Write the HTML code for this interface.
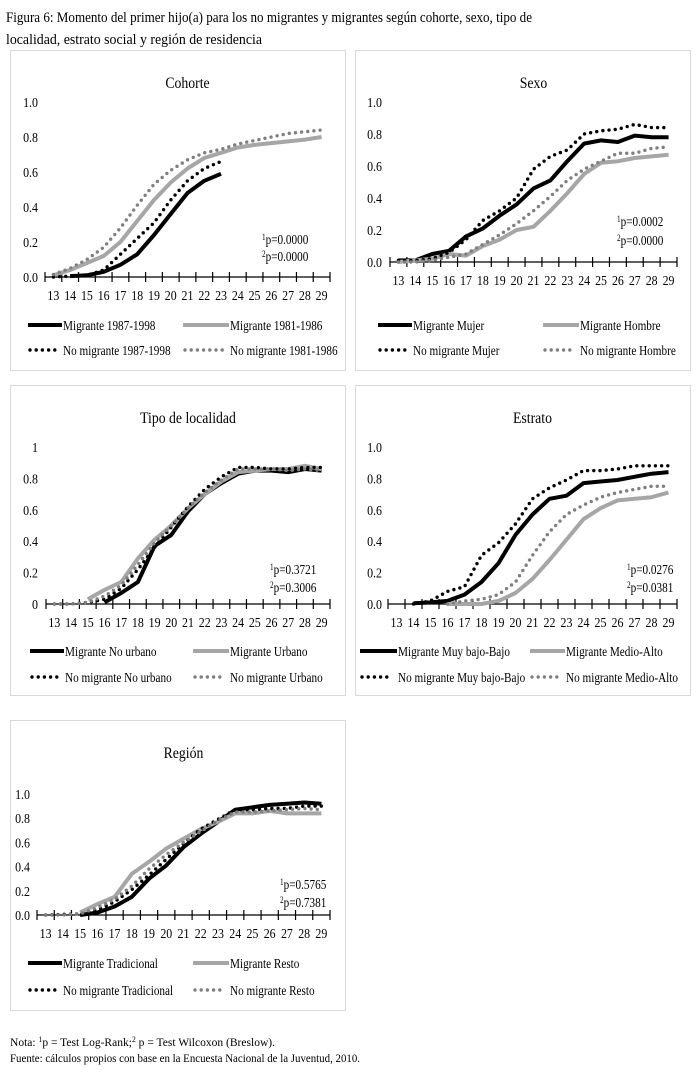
<!DOCTYPE html>
<html><head><meta charset="utf-8"><style>
html,body{margin:0;padding:0;background:#fff;}
svg{display:block;font-family:"Liberation Serif",serif;}
</style></head><body>
<svg id="page" width="699" height="1081" viewBox="0 0 699 1081" xmlns="http://www.w3.org/2000/svg">
<text x="6" y="22" font-size="15" textLength="526" lengthAdjust="spacingAndGlyphs">Figura 6: Momento del primer hijo(a) para los no migrantes y migrantes según cohorte, sexo, tipo de</text>
<text x="6" y="44" font-size="15" textLength="256" lengthAdjust="spacingAndGlyphs">localidad, estrato social y región de residencia</text>
<text x="10" y="1046" font-size="12" textLength="265" lengthAdjust="spacingAndGlyphs">Nota: <tspan font-size="8" dy="-4">1</tspan><tspan dy="4">p = Test Log-Rank;</tspan><tspan font-size="8" dy="-4">2</tspan><tspan dy="4"> p = Test Wilcoxon (Breslow).</tspan></text>
<text x="10" y="1062" font-size="12" textLength="350" lengthAdjust="spacingAndGlyphs">Fuente: cálculos propios con base en la Encuesta Nacional de la Juventud, 2010.</text>
</svg>
<script>
const ages = ["13","14","15","16","17","18","19","20","21","22","23","24","25","26","27","28","29"];
const yTicksA = ["0.0","0.2","0.4","0.6","0.8","1.0"];
const yTicksB = ["0","0.2","0.4","0.6","0.8","1"];
const N = null;
// Cohorte
const cohM87 = [N,.005,.01,.03,.07,.13,.24,.36,.48,.55,.59,N,N,N,N,N,N];
const cohM81 = [.01,.04,.08,.12,.2,.32,.44,.54,.62,.68,.71,.74,.755,.765,.775,.785,.80];
const cohNM87 = [0,.005,.01,.04,.13,.22,.31,.44,.55,.62,.66,N,N,N,N,N,N];
const cohNM81 = [.015,.05,.1,.17,.28,.41,.53,.61,.67,.71,.73,.76,.78,.80,.82,.83,.84];
// Sexo
const sexMM = [.01,.01,.05,.07,.16,.21,.29,.36,.46,.51,.63,.74,.76,.75,.79,.78,.78];
const sexMH = [0,.01,.02,.05,.04,.10,.14,.20,.22,.32,.43,.55,.62,.63,.65,.66,.67];
const sexNM = [.01,.01,.02,.06,.14,.26,.32,.40,.58,.66,.70,.80,.82,.83,.86,.84,.84];
const sexNH = [0,0,.01,.03,.05,.11,.17,.24,.32,.41,.51,.58,.63,.68,.68,.71,.72];
// Tipo de localidad
const locMNU = [N,N,N,.01,.07,.14,.37,.44,.59,.70,.77,.83,.85,.85,.84,.86,.85];
const locMU = [N,N,.03,.09,.14,.29,.41,.50,.61,.70,.78,.84,.85,.86,.86,.88,.86];
const locNNU = [0,0,.01,.03,.10,.22,.36,.49,.62,.73,.81,.87,.87,.86,.86,.87,.87];
const locNU = [0,0,.01,.05,.12,.25,.39,.50,.61,.71,.79,.86,.86,.86,.85,.86,.85];
// Estrato
const estMB = [N,.005,.01,.02,.06,.14,.26,.44,.57,.67,.69,.77,.78,.79,.81,.83,.84];
const estMA = [N,N,N,0,0,0,.02,.07,.16,.28,.41,.54,.61,.66,.67,.68,.71];
const estNB = [N,0,.02,.08,.11,.31,.39,.51,.67,.74,.79,.85,.85,.86,.88,.88,.88];
const estNA = [N,N,N,0,.02,.03,.06,.14,.31,.46,.57,.63,.68,.71,.73,.75,.75];
// Región
const regMT = [N,N,0,.02,.07,.15,.30,.41,.56,.67,.77,.87,.89,.91,.92,.93,.92];
const regMR = [N,N,.02,.09,.15,.34,.44,.55,.63,.71,.77,.84,.84,.86,.84,.84,.84];
const regNT = [0,.005,.01,.04,.11,.21,.33,.46,.59,.71,.79,.87,.87,.88,.88,.90,.90];
const regNR = [0,0,.01,.06,.13,.24,.38,.50,.60,.69,.78,.85,.85,.86,.87,.88,.87];

const svg = document.getElementById('page');
const NS = 'http://www.w3.org/2000/svg';
function mk(tag, attrs, parent){ const e=document.createElementNS(NS,tag); for(const k in attrs) e.setAttribute(k,attrs[k]); (parent||svg).appendChild(e); return e; }
const condensed=[];
function squeeze(el,f){ condensed.push([el,f]); }

const STY = {
  ms:{stroke:'#000',w:4,dash:null},
  gs:{stroke:'#a6a6a6',w:4,dash:null},
  md:{stroke:'#000',w:3.4,dash:'0 6.2'},
  gd:{stroke:'#7f7f7f',w:3.4,dash:'0 6.2'}
};

const panels = [
 {key:'cohorte',title:'Cohorte',box:[10,50,335,320],ax:[45,330,277,102],ylab:yTicksA,ylx:38,tY:88,
  p:[262,244,261],leg:[325,350],lx:[28,63,183,230],
  series:[[cohM87,'ms','Migrante 1987-1998'],[cohM81,'gs','Migrante 1981-1986'],[cohNM87,'md','No migrante 1987-1998'],[cohNM81,'gd','No migrante 1981-1986']],p1:'0.0000',p2:'0.0000'},
 {key:'sexo',title:'Sexo',box:[355,50,335,320],ax:[390,677,262,102],ylab:yTicksA,ylx:382,tY:88,
  p:[617,226,245],leg:[325,350],lx:[378,413,543,580],
  series:[[sexMM,'ms','Migrante Mujer'],[sexMH,'gs','Migrante Hombre'],[sexNM,'md','No migrante Mujer'],[sexNH,'gd','No migrante Hombre']],p1:'0.0002',p2:'0.0000'},
 {key:'localidad',title:'Tipo de localidad',box:[10,385,335,310],ax:[46,330,604,447],ylab:yTicksB,ylx:38,tY:423,
  p:[270,574,592],leg:[651,677],lx:[30,65,193,230],
  series:[[locMNU,'ms','Migrante No urbano'],[locMU,'gs','Migrante Urbano'],[locNNU,'md','No migrante No urbano'],[locNU,'gd','No migrante Urbano']],p1:'0.3721',p2:'0.3006'},
 {key:'estrato',title:'Estrato',box:[355,385,335,310],ax:[388,677,604,447],ylab:yTicksA,ylx:382,tY:423,
  p:[627,574,592],leg:[651,677],lx:[360,398,530,566],
  series:[[estMB,'ms','Migrante Muy bajo-Bajo'],[estMA,'gs','Migrante Medio-Alto'],[estNB,'md','No migrante Muy bajo-Bajo'],[estNA,'gd','No migrante Medio-Alto']],p1:'0.0276',p2:'0.0381'},
 {key:'region',title:'Región',box:[10,720,335,290],ax:[37,330,915,794],ylab:yTicksA,ylx:30,tY:758,
  p:[280,889,907],leg:[963,990],lx:[28,63,193,230],
  series:[[regMT,'ms','Migrante Tradicional'],[regMR,'gs','Migrante Resto'],[regNT,'md','No migrante Tradicional'],[regNR,'gd','No migrante Resto']],p1:'0.5765',p2:'0.7381'}
];

panels.forEach(P=>{
  const g = mk('g',{});
  
  
  const [bx,by,bw,bh]=P.box;
  const frame = mk('rect',{x:bx+0.5,y:by+0.5,width:bw,height:bh,fill:'#fff',stroke:'#d9d9d9','stroke-width':1},g);
  
  
  const [x0,x1,y0,y1]=P.ax;
  const band=(x1-x0)/ages.length;
  const xS=i=>x0+band*(i+0.5);
  const yS=v=>y0+(y1-y0)*v;
  const t = mk('text',{x:(x0+x1)/2,y:P.tY,'font-size':16,'text-anchor':'middle'},g);
  t.textContent=P.title;
  
  
  squeeze(t,0.86);
  P.ylab.forEach((lab,i)=>{
    const v=i/(P.ylab.length-1);
    const tx=mk('text',{x:P.ylx,y:yS(v)+5,'font-size':14,'text-anchor':'end'},g);
    tx.textContent=lab;
    
    
    squeeze(tx,0.85);
  });
  const axis=mk('line',{x1:x0,x2:x1,y1:y0,y2:y0,stroke:'#000','stroke-width':1.3},g);
  
  
  for(let i=0;i<=ages.length;i++){
    const xx=x0+band*i;
    const tk=mk('line',{x1:xx,x2:xx,y1:y0-5,y2:y0+5,stroke:'#000','stroke-width':1.2},g);
    
    
  }
  ages.forEach((a,i)=>{
    const tx=mk('text',{x:xS(i),y:y0+23,'font-size':14,'text-anchor':'middle'},g);
    tx.textContent=a;
    
    
    squeeze(tx,0.85);
  });
  P.series.forEach(([vals,st,name])=>{
    const s=STY[st];
    let d='';let pen=false;
    vals.forEach((v,i)=>{ if(v===null){pen=false;return;} d+=(pen?'L':'M')+xS(i).toFixed(1)+','+yS(v).toFixed(1); pen=true; });
    const a={d:d,fill:'none',stroke:s.stroke,'stroke-width':s.w,'stroke-linejoin':'round','stroke-linecap':s.dash?'round':'butt'};
    if(s.dash)a['stroke-dasharray']=s.dash;
    const p=mk('path',a,g);
    
    
  });
  const pv=[[P.p[1],'1',P.p1],[P.p[2],'2',P.p2]];
  pv.forEach(([yy,sup,val])=>{
    const tx=mk('text',{x:P.p[0],y:yy,'font-size':14},g);
    tx.innerHTML='<tspan font-size="9" dy="-4">'+sup+'</tspan><tspan dy="4">p='+val+'</tspan>';
    
    
    squeeze(tx,0.8);
  });
  P.series.forEach(([vals,st,name],k)=>{
    const s=STY[st];
    const row=P.leg[k<2?0:1];
    const sx=P.lx[(k%2)*2], tx0=P.lx[(k%2)*2+1];
    const lg=mk('g',{},g);
    
    
    const a={x1:sx,x2:tx0-1,y1:row,y2:row,stroke:s.stroke,'stroke-width':s.w,'stroke-linecap':s.dash?'round':'butt'};
    if(s.dash){a['stroke-dasharray']=s.dash;a.x1=sx+2;a.x2=tx0-5;}
    mk('line',a,lg);
    const tt=mk('text',{x:tx0,y:row+5,'font-size':14},lg);
    tt.textContent=name;
    squeeze(tt,0.8);
  });
});
condensed.forEach(([el,f])=>{
  const L=el.getComputedTextLength();
  if(L>0){el.setAttribute('textLength',(L*f).toFixed(1));el.setAttribute('lengthAdjust','spacingAndGlyphs');}
});
</script>
</body></html>
